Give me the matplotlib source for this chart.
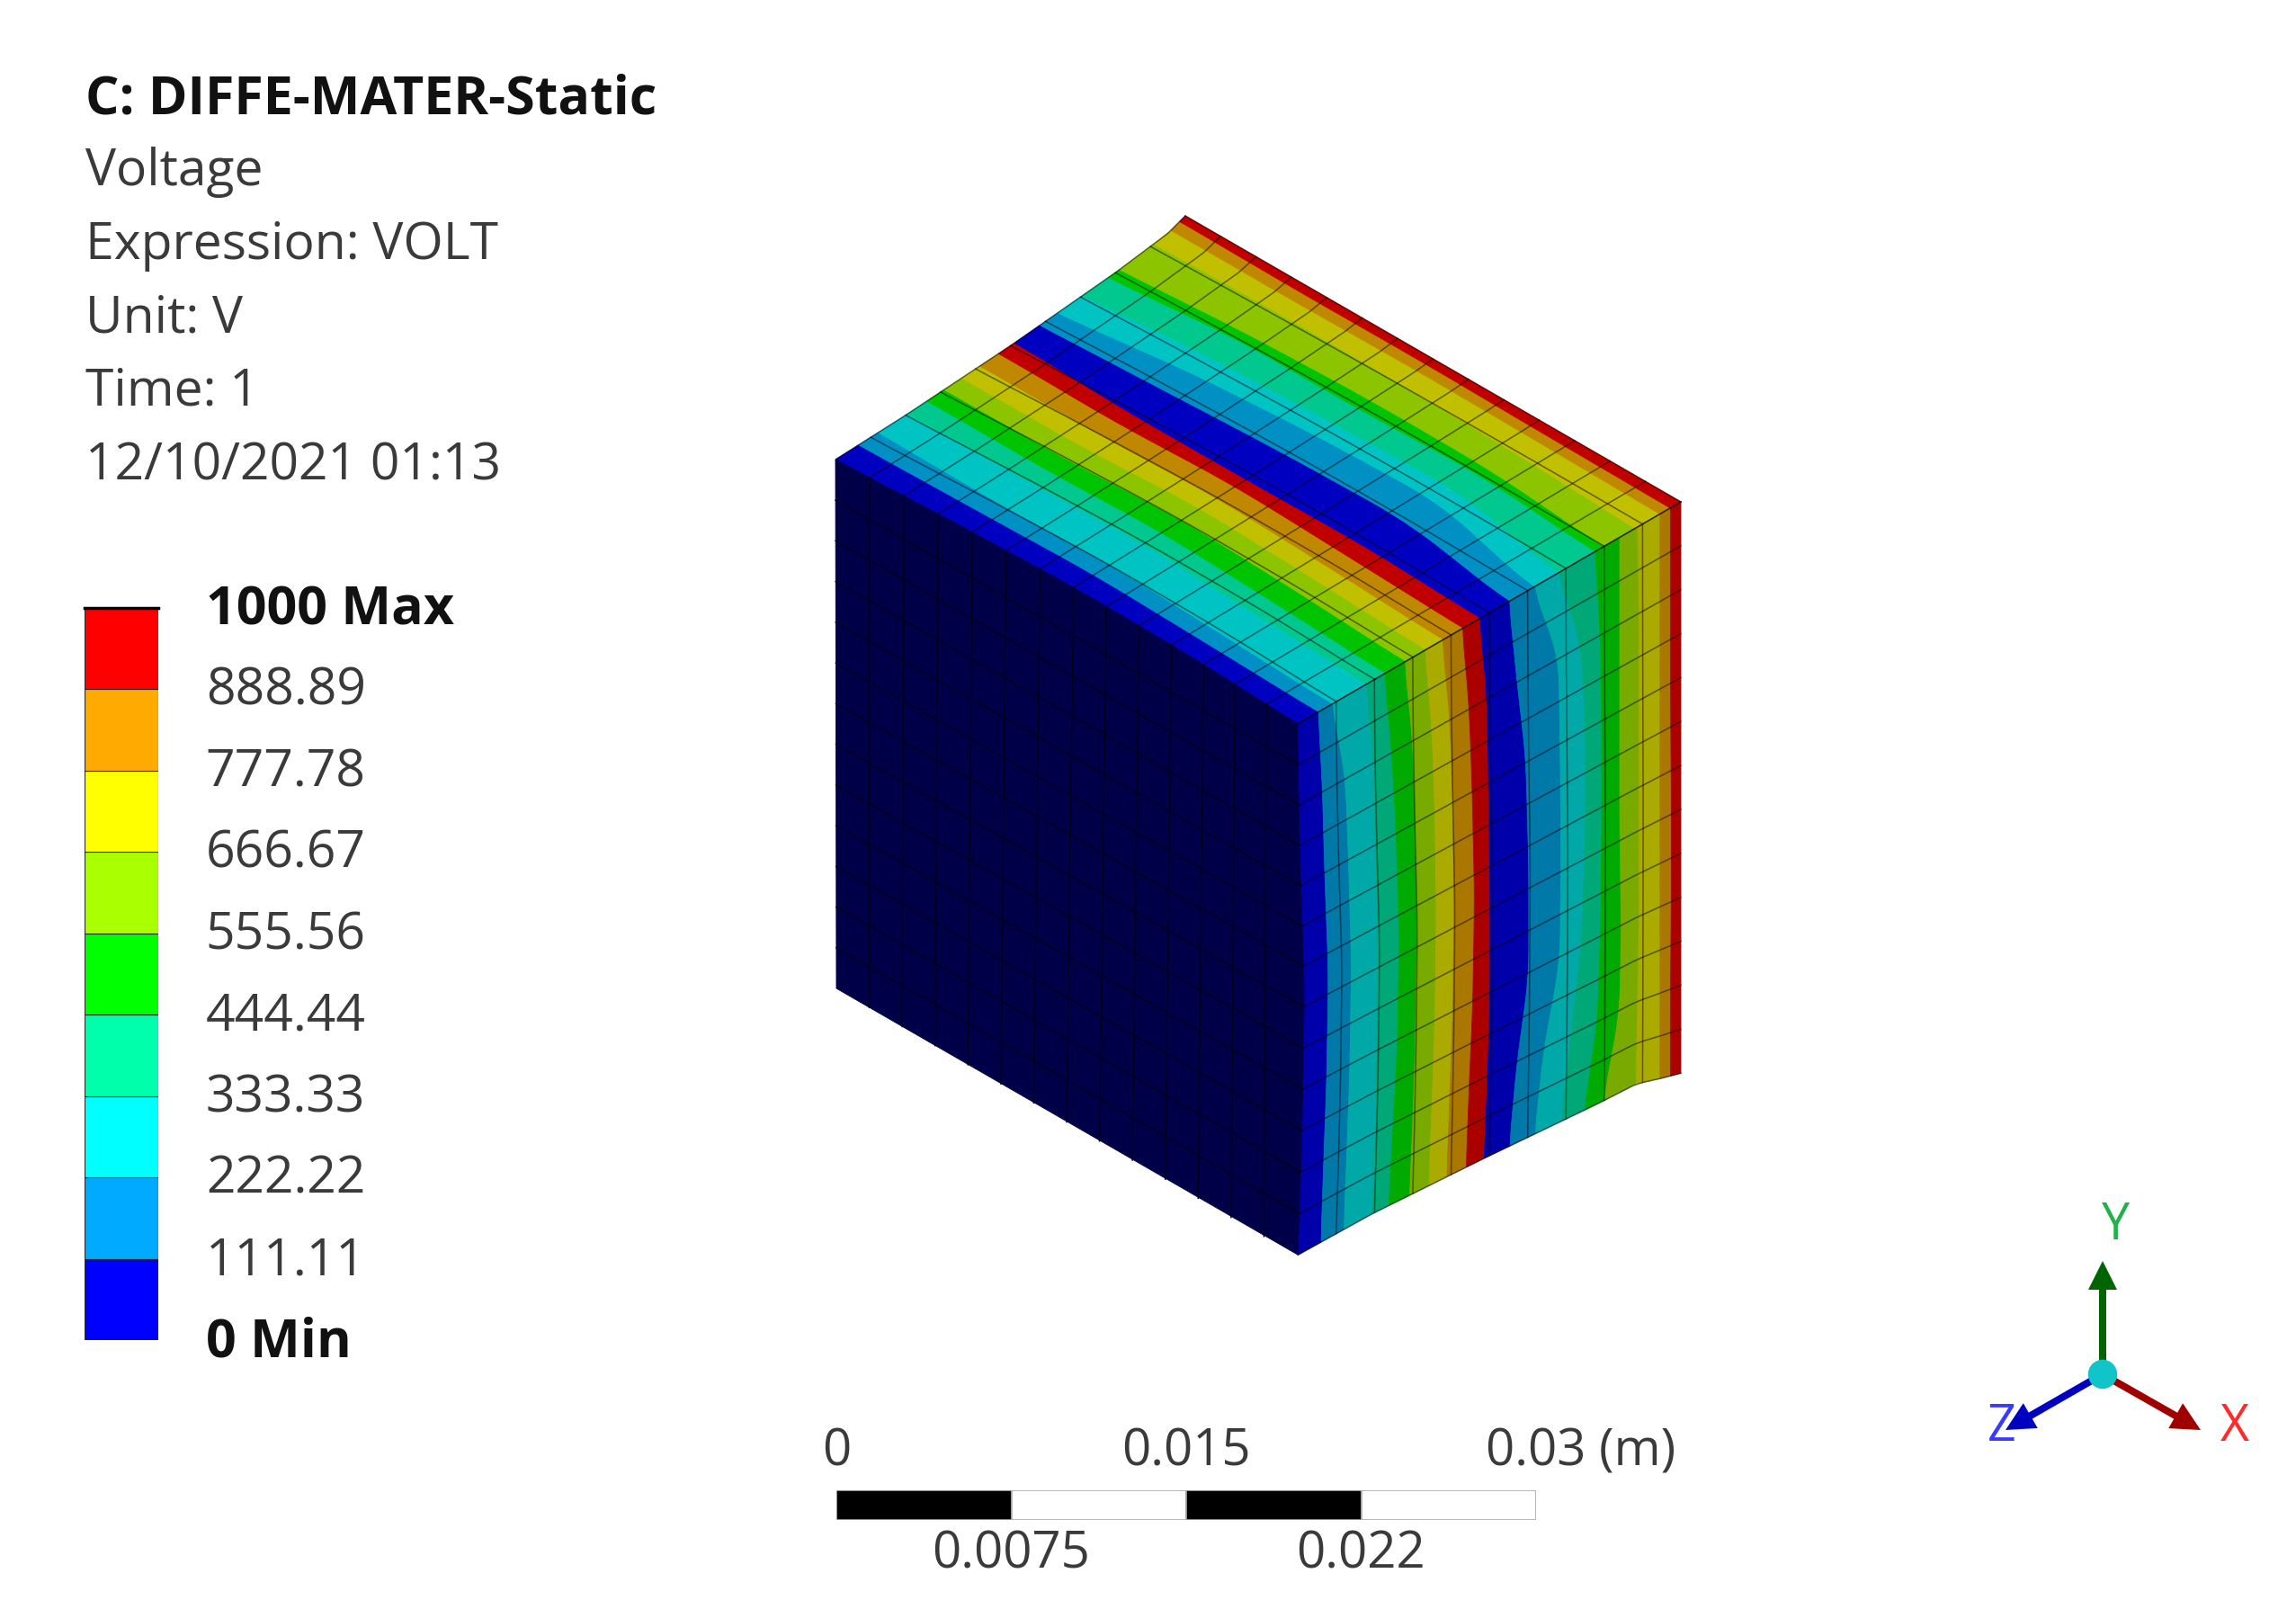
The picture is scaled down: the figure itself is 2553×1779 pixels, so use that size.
import numpy as np
import matplotlib
matplotlib.use("Agg")
import matplotlib.pyplot as plt
from matplotlib.patches import Circle
from matplotlib.transforms import ScaledTranslation

W, H = 2553, 1779

plt.rcParams['font.family'] = ['Open Sans', 'DejaVu Sans']

header_bold = "C: DIFFE-MATER-Static"
header_lines = ["Voltage", "Expression: VOLT", "Unit: V", "Time: 1", "12/10/2021 01:13"]

levels = [0, 111.11, 222.22, 333.33, 444.44, 555.56, 666.67, 777.78, 888.89, 1000]
level_labels = ["0 Min", "111.11", "222.22", "333.33", "444.44",
                "555.56", "666.67", "777.78", "888.89", "1000 Max"]
legend_colors = ['#0000ff', '#00aaff', '#00ffff', '#00ffaa', '#00ff00',
                 '#aaff00', '#ffff00', '#ffaa00', '#ff0000']
top_colors = ['#0000c0', '#0090c4', '#00c4c4', '#00c88e', '#00c400',
              '#8cc400', '#c0c000', '#c08800', '#c00000']
right_colors = ['#0000aa', '#0078a8', '#00a8a8', '#00a878', '#00aa00',
                '#78aa00', '#aaaa00', '#aa7800', '#aa0000']
dark_color = '#000048'

# outline of the block
corner_a = np.array([929, 511])      # left, top
corner_p = np.array([1318, 240])     # back apex
corner_r = np.array([1869, 558])     # right, top
corner_f = np.array([1443, 805])     # front, top
corner_fb = np.array([1442, 1396])   # front, bottom
corner_rb = np.array([1870, 1193])   # right, bottom
corner_ab = np.array([930, 1099])    # left, bottom
bottom_x = [1442, 1525, 1650, 1777, 1820, 1847, 1870]
bottom_y = [1396, 1350, 1288, 1227, 1205, 1199, 1193]

# the back left edge sags below its chord
sag_u = [0, 0.2, 0.5, 0.8, 0.95, 1]
sag_px = [0, 5, 9, 9, 6, 0]

# where each voltage level crosses the top face, fraction from the left edge
top_v = [0, 0.25, 0.5, 0.75, 1]
top_edges = np.array([
    [0, .066, .123, .205, .262, .311, .361, .413, .467, .513, .584, .633, .705, .779, .811, .910, .959, .984, 1],
    [.012, .070, .115, .205, .255, .305, .355, .405, .455, .495, .590, .665, .725, .800, .825, .910, .955, .980, 1],
    [.020, .075, .120, .210, .260, .315, .365, .410, .460, .490, .598, .680, .730, .795, .830, .905, .955, .980, 1],
    [.015, .065, .105, .195, .245, .300, .350, .395, .445, .490, .600, .685, .735, .800, .825, .895, .950, .975, 1],
    [0, .054, .090, .180, .228, .281, .334, .379, .431, .476, .550, .613, .678, .775, .798, .880, .945, .972, 1],
])

# same crossings on the right face, in crop pixels (front = 125, right = 1410)
right_w = [0, 0.15, 0.3, 0.5, 0.7, 0.85, 1]
right_edges = np.array([
    [125, 194, 240, 355, 416, 484, 552, 610, 677, 735, 834, 915, 996, 1122, 1205, 1265, 1340, 1375, 1410],
    [128, 208, 285, 380, 440, 510, 575, 635, 700, 760, 860, 1000, 1075, 1140, 1205, 1270, 1340, 1375, 1410],
    [135, 215, 295, 385, 455, 520, 585, 645, 710, 765, 890, 1005, 1090, 1145, 1205, 1270, 1340, 1375, 1410],
    [147, 228, 305, 395, 465, 525, 590, 650, 718, 770, 900, 1008, 1090, 1145, 1205, 1270, 1340, 1378, 1410],
    [142, 222, 300, 390, 460, 520, 585, 645, 712, 770, 900, 1005, 1075, 1140, 1210, 1270, 1340, 1378, 1410],
    [135, 212, 290, 385, 445, 512, 575, 635, 700, 762, 860, 950, 1040, 1130, 1205, 1265, 1340, 1375, 1410],
    [125, 203, 280, 375, 430, 500, 565, 625, 690, 750, 835, 920, 1010, 1085, 1150, 1260, 1340, 1375, 1410],
])
right_edges = (right_edges - 125) / 1285

n_along, n_across, n_down = 14, 10, 13

scale_ticks = [0, 0.0075, 0.015, 0.0225, 0.03]
scale_top_labels = ["0", "0.015", "0.03 (m)"]
scale_bottom_labels = ["0.0075", "0.022"]

fig = plt.figure(figsize=(W / 100, H / 100), dpi=100, facecolor='white')
ax = fig.add_axes([0, 0, 1, 1])
ax.set_xlim(0, W)
ax.set_ylim(H, 0)
ax.axis('off')


def top_xy(u, v):
    u = np.asarray(u, dtype=float)
    v = np.asarray(v, dtype=float)
    lx = corner_a[0] + u * (corner_p[0] - corner_a[0])
    ly = corner_a[1] + u * (corner_p[1] - corner_a[1]) + np.interp(u, sag_u, sag_px) * (1 - v)
    rx = corner_f[0] + u * (corner_r[0] - corner_f[0])
    ry = corner_f[1] + u * (corner_r[1] - corner_f[1])
    return lx + (rx - lx) * v, ly + (ry - ly) * v


def right_xy(s, w):
    x = corner_f[0] + s * (corner_r[0] - corner_f[0])
    t = (x - corner_f[0]) / (corner_r[0] - corner_f[0])
    y_top = corner_f[1] + t * (corner_r[1] - corner_f[1])
    y_chord = corner_fb[1] + t * (corner_rb[1] - corner_fb[1])
    y_bot = np.interp(x, bottom_x, bottom_y)
    # only the last rows follow the curved bottom edge
    return x, y_top + (y_chord - y_top) * w + (y_bot - y_chord) * w ** 4


def smooth(a, n=5):
    pad = np.r_[[a[0]] * n, a, [a[-1]] * n]
    return np.convolve(pad, np.ones(n) / n, mode='same')[n:-n]


fine_v = np.linspace(0, 1, 57)
fine_w = np.linspace(0, 1, 105)
top_fine = np.array([smooth(np.interp(fine_v, top_v, top_edges[:, j]), 9) for j in range(19)])
right_fine = np.array([smooth(np.interp(fine_w, right_w, right_edges[:, j]), 11) for j in range(19)])

# contour bands
for j in range(18):
    xa, ya = top_xy(top_fine[j], fine_v)
    xb, yb = top_xy(top_fine[j + 1], fine_v)
    ax.fill(np.r_[xa, xb[::-1]], np.r_[ya, yb[::-1]], color=top_colors[j % 9], lw=0.6, zorder=2)

    xa, ya = right_xy(right_fine[j], fine_w)
    xb, yb = right_xy(right_fine[j + 1], fine_w)
    ax.fill(np.r_[xa, xb[::-1]], np.r_[ya, yb[::-1]], color=right_colors[j % 9], lw=0.6, zorder=2)

# dark left face, its top edge follows the first band edge
top_x, top_y = top_xy(top_fine[0], fine_v)
front_x, front_y = right_xy(right_fine[0], fine_w)
ax.fill(np.r_[top_x, front_x, corner_ab[0], corner_a[0]],
        np.r_[top_y, front_y, corner_ab[1], corner_a[1]],
        color=dark_color, lw=0.6, zorder=3)

# mesh on the top face
for k in range(n_along + 1):
    v = k / n_along
    u0 = np.interp(v, fine_v, top_fine[0])
    x, y = top_xy(u0 + np.linspace(0, 1, 21) * (1 - u0), v)
    ax.plot(x, y, color='k', alpha=0.5, lw=1.1, zorder=4)
for k in range(1, n_across + 1):
    x, y = top_xy(top_fine[0] + k / n_across * (1 - top_fine[0]), fine_v)
    ax.plot(x, y, color='k', alpha=0.5, lw=1.1, zorder=4)

# mesh on the right face
for k in range(n_down + 1):
    w = k / n_down
    s0 = np.interp(w, fine_w, right_fine[0])
    x, y = right_xy(s0 + np.linspace(0, 1, 41) * (1 - s0), w)
    ax.plot(x, y, color='k', alpha=0.5, lw=1.1, zorder=4)
for k in range(1, n_across):
    s0 = right_fine[0]
    x, y = right_xy(s0 + k / n_across * (1 - s0), fine_w)
    ax.plot(x, y, color='k', alpha=0.45, lw=1.1, zorder=4)

# mesh on the dark face
for k in range(1, n_along):
    t = k / n_along
    xa, ya = np.interp(t, fine_v, top_x), np.interp(t, fine_v, top_y)
    xb = corner_ab[0] + t * (corner_fb[0] - corner_ab[0])
    yb = corner_ab[1] + t * (corner_fb[1] - corner_ab[1])
    ax.plot([xa, xb], [ya, yb], color='#00001c', lw=1.1, zorder=4)
for k in range(1, n_down):
    t = k / n_down
    xa = corner_a[0] + t * (corner_ab[0] - corner_a[0])
    ya = corner_a[1] + t * (corner_ab[1] - corner_a[1])
    xb, yb = right_xy(np.interp(t, fine_w, right_fine[0]), t)
    ax.plot([xa, xb], [ya, yb], color='#00001c', lw=1.1, zorder=4)

# header text
ax.text(95, 111, header_bold, fontsize=42.6, fontweight='bold', color='#111111', va='center')
for y, s in zip([192, 274, 355, 436, 519], header_lines):
    ax.text(95, y, s, fontsize=41, color='#3a3a3a', va='center')

# colour legend
bar_ax = fig.add_axes([94 / W, 1 - 1490 / H, 82 / W, 814 / H])
bar_ax.bar(0, np.diff(levels), bottom=levels[:-1], width=1, color=legend_colors,
           edgecolor='#2a2a2a', linewidth=0.8)
bar_ax.set_xlim(-0.5, 0.5)
bar_ax.set_ylim(0, 1000)
bar_ax.set_xticks([])
bar_ax.yaxis.tick_right()
bar_ax.set_yticks(levels)
bar_ax.set_yticklabels(level_labels, fontsize=41, color='#3a3a3a')
bar_ax.tick_params(axis='y', length=0, pad=38)
label_shift = ScaledTranslation(0, 4 / 100, fig.dpi_scale_trans)
for lab in bar_ax.get_yticklabels():
    lab.set_transform(lab.get_transform() + label_shift)
for lab in (bar_ax.get_yticklabels()[0], bar_ax.get_yticklabels()[-1]):
    lab.set_fontweight('bold')
    lab.set_fontsize(42.6)
    lab.set_color('#111111')
for sp in bar_ax.spines.values():
    sp.set_visible(False)
bar_ax.plot([-0.5, 0.5], [1000, 1000], color='k', lw=2.5, clip_on=False)

# scale bar
scale_ax = fig.add_axes([930 / W, 1 - 1690 / H, 778 / W, 33 / H])
scale_ax.bar(scale_ticks[:-1], 1, width=np.diff(scale_ticks), align='edge',
             color=['k', 'w', 'k', 'w'], edgecolor='#aaaaaa', linewidth=1.2)
scale_ax.set_xlim(0, 0.03)
scale_ax.set_ylim(0, 1)
scale_ax.axis('off')
for x, s in zip(scale_ticks[0::2], scale_top_labels):
    left = s.endswith('(m)')
    scale_ax.annotate(s, (x, 1), xytext=(-40 if left else 0, 30), textcoords='offset points',
                      fontsize=40.5, color='#3a3a3a', ha='left' if left else 'center',
                      va='center', annotation_clip=False)
for x, s in zip(scale_ticks[1::2], scale_bottom_labels):
    scale_ax.annotate(s, (x, 0), xytext=(0, -28), textcoords='offset points',
                      fontsize=40.5, color='#3a3a3a', ha='center', va='center', annotation_clip=False)

# axis triad
origin = (2338, 1528)
for tip, col in [((2338, 1402), '#006400'), ((2447, 1590), '#a00000'), ((2230, 1590), '#0000c0')]:
    ax.arrow(origin[0], origin[1], tip[0] - origin[0], tip[1] - origin[1], width=8,
             head_width=32, head_length=32, length_includes_head=True,
             color=col, lw=0, zorder=6)
ax.add_patch(Circle(origin, 15.5, color='#10c4c8', zorder=7))
ax.text(2353, 1363, "Y", fontsize=40, color='#22b14c', ha='center', va='center')
ax.text(2485, 1588, "X", fontsize=40, color='#ff2a2a', ha='center', va='center')
ax.text(2226, 1588, "Z", fontsize=40, color='#3a3aff', ha='center', va='center')

fig.savefig('out.png', dpi=100, facecolor='white')
